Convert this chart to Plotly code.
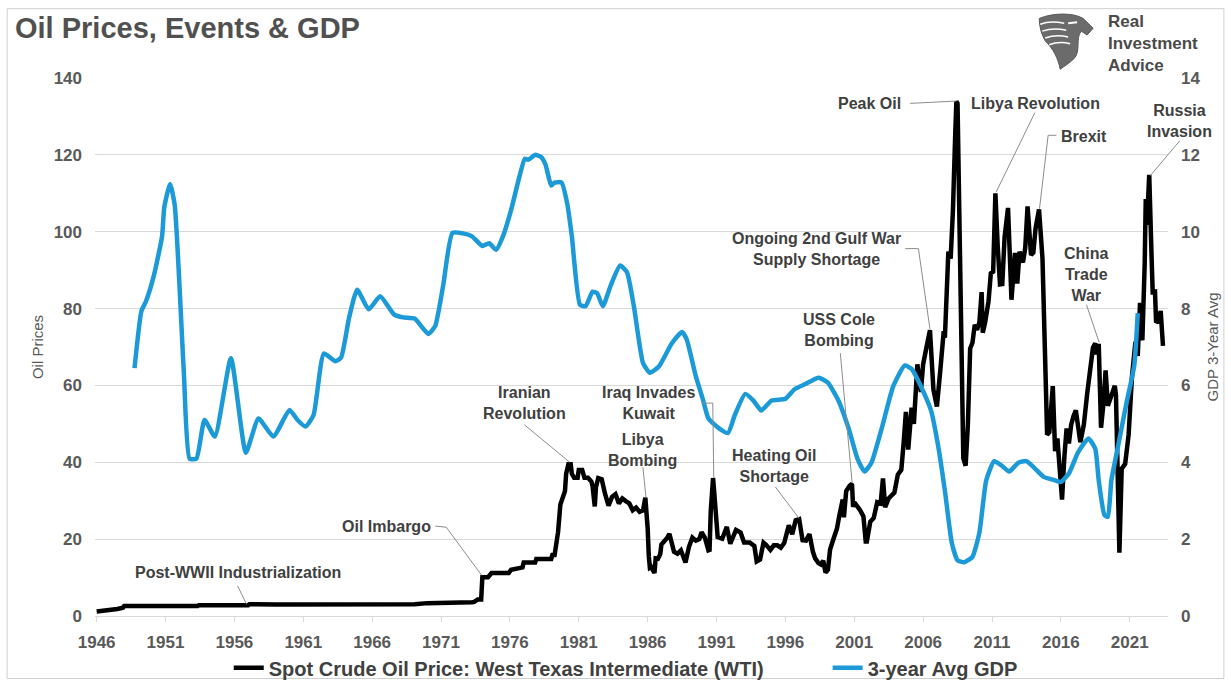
import plotly.graph_objects as go
from datetime import datetime, timedelta

# ---- WTI spot crude oil price, USD per barrel ----
oil_dates = [
    "1946-01", "1946-08", "1947-01", "1947-07", "1947-12", "1948-01",
    "1953-05", "1953-06", "1957-01", "1957-02", "1959-02", "1964-12",
    "1969-02", "1970-01", "1971-01", "1971-02", "1973-04", "1973-06",
    "1973-09", "1973-12", "1974-01", "1974-06", "1974-09", "1975-12",
    "1976-02", "1976-12", "1977-01", "1977-11", "1977-12", "1979-01",
    "1979-02", "1979-04", "1979-05", "1979-07", "1979-09", "1979-12",
    "1980-01", "1980-02", "1980-04", "1980-06", "1980-07", "1980-09",
    "1980-12", "1981-01", "1981-04", "1981-06", "1981-09", "1981-12",
    "1982-01", "1982-03", "1982-04", "1982-06", "1982-09", "1982-12",
    "1983-02", "1983-03", "1983-06", "1983-09", "1983-12", "1984-03",
    "1984-06", "1984-09", "1984-12", "1985-03", "1985-06", "1985-09",
    "1985-11", "1985-12", "1986-01", "1986-02", "1986-03", "1986-04",
    "1986-07", "1986-08", "1986-10", "1986-12", "1987-01", "1987-06",
    "1987-08", "1987-12", "1988-03", "1988-06", "1988-10", "1989-01",
    "1989-04", "1989-07", "1989-10", "1989-12", "1990-03", "1990-06",
    "1990-07", "1990-08", "1990-10", "1990-11", "1990-12", "1991-01",
    "1991-02", "1991-06", "1991-10", "1992-01", "1992-06", "1992-10",
    "1993-01", "1993-06", "1993-10", "1993-12", "1994-03", "1994-06",
    "1994-08", "1994-12", "1995-03", "1995-06", "1995-09", "1995-12",
    "1996-04", "1996-07", "1996-10", "1997-01", "1997-04", "1997-07",
    "1997-10", "1998-01", "1998-03", "1998-06", "1998-08", "1998-10",
    "1998-12", "1999-02", "1999-04", "1999-07", "1999-10", "1999-12",
    "2000-03", "2000-04", "2000-06", "2000-09", "2000-11", "2000-12",
    "2001-01", "2001-06", "2001-09", "2001-11", "2001-12", "2002-03",
    "2002-06", "2002-09", "2002-12", "2003-02", "2003-04", "2003-07",
    "2003-12", "2004-03", "2004-06", "2004-08", "2004-10", "2004-12",
    "2005-03", "2005-05", "2005-08", "2005-11", "2006-01", "2006-04",
    "2006-07", "2006-10", "2007-01", "2007-04", "2007-07", "2007-08",
    "2007-11", "2008-01", "2008-03", "2008-05", "2008-06", "2008-07",
    "2008-08", "2008-09", "2008-10", "2008-11", "2008-12", "2009-02",
    "2009-04", "2009-06", "2009-08", "2009-10", "2009-12", "2010-02",
    "2010-04", "2010-05", "2010-07", "2010-10", "2010-12", "2011-02",
    "2011-04", "2011-06", "2011-08", "2011-10", "2011-12", "2012-03",
    "2012-06", "2012-09", "2012-11", "2013-01", "2013-04", "2013-06",
    "2013-08", "2013-11", "2014-01", "2014-03", "2014-06", "2014-09",
    "2014-10", "2014-11", "2014-12", "2015-01", "2015-03", "2015-06",
    "2015-08", "2015-10", "2015-12", "2016-02", "2016-04", "2016-06",
    "2016-08", "2016-10", "2016-12", "2017-02", "2017-06", "2017-09",
    "2017-12", "2018-02", "2018-05", "2018-07", "2018-08", "2018-10",
    "2018-12", "2019-02", "2019-04", "2019-06", "2019-09", "2019-12",
    "2020-01", "2020-03", "2020-04", "2020-06", "2020-09", "2020-12",
    "2021-03", "2021-06", "2021-08", "2021-10", "2021-12", "2022-02",
    "2022-03", "2022-04", "2022-06", "2022-08", "2022-09", "2022-11",
    "2022-12", "2023-02", "2023-04", "2023-06",
]
oil_prices = [
    1.17, 1.37, 1.52, 1.82, 2.17, 2.57,
    2.57, 2.82, 2.82, 3.07, 2.97, 2.92,
    3.07, 3.35, 3.35, 3.56, 3.56, 3.66,
    4.31, 4.31, 10.11, 10.11, 11.16, 11.16,
    12.03, 12.65, 13.9, 13.9, 14.85, 14.85,
    15.85, 15.85, 18.1, 21.8, 29.0, 32.5,
    32.5, 37.0, 39.5, 39.5, 37.0, 36.0,
    36.0, 38.0, 38.0, 36.0, 36.0, 35.0,
    33.85, 28.5, 33.5, 35.9, 35.6, 31.7,
    29.0, 28.7, 31.0, 31.7, 29.3, 30.6,
    29.9, 29.3, 27.5, 28.2, 27.1, 27.5,
    30.8, 27.2, 22.9, 15.5, 12.6, 12.8,
    11.2, 15.0, 14.9, 16.1, 18.6, 20.3,
    21.4, 16.7, 16.2, 17.1, 13.9, 18.0,
    20.4, 19.6, 20.0, 21.8, 20.3, 17.1,
    17.2, 27.2, 35.9, 32.3, 27.3, 25.2,
    20.5, 20.1, 23.2, 18.8, 22.4, 21.7,
    19.1, 19.1, 18.2, 14.2, 14.7, 19.1,
    18.6, 17.2, 18.4, 18.4, 17.8, 19.0,
    23.6, 21.3, 24.9, 25.2, 19.7, 19.6,
    21.3, 16.7, 15.0, 13.7, 13.4, 14.4,
    11.3, 12.0, 17.3, 20.1, 22.8, 26.1,
    30.3, 25.7, 32.5, 33.9, 34.4, 28.4,
    29.6, 27.6, 25.9, 19.4, 19.4, 24.5,
    25.5, 29.6, 29.3, 35.8, 28.3, 30.6,
    32.1, 36.8, 38.0, 44.9, 53.1, 43.3,
    54.2, 50.0, 65.5, 58.3, 65.5, 70.0,
    74.4, 58.9, 54.5, 63.9, 74.1, 72.4,
    94.8, 93.0, 105.5, 125.4, 133.9, 133.4,
    116.7, 104.1, 76.6, 57.3, 41.1, 39.1,
    49.7, 69.6, 71.1, 75.8, 74.5, 76.4,
    84.3, 73.7, 76.3, 81.9, 89.2, 89.6,
    110.0, 96.3, 86.3, 86.4, 98.6, 106.2,
    82.3, 94.5, 86.5, 94.8, 92.0, 95.8,
    106.6, 93.9, 94.6, 100.8, 105.8, 93.0,
    84.3, 75.8, 59.3, 47.2, 47.8, 59.8,
    42.9, 46.2, 37.2, 30.3, 41.1, 48.8,
    44.9, 49.8, 52.0, 53.5, 45.2, 49.8,
    58.0, 62.2, 69.8, 71.0, 68.1, 70.8,
    49.0, 55.0, 63.9, 54.7, 57.0, 59.9,
    57.5, 29.2, 16.5, 38.3, 39.6, 47.1,
    62.3, 71.4, 67.7, 81.5, 71.7, 91.6,
    108.5, 101.8, 114.8, 94.0, 84.3, 84.4,
    76.4, 76.8, 79.4, 70.3,
]

# ---- 3-year average GDP growth, percent ----
gdp_dates = [
    "1948-10", "1949-04", "1949-08", "1950-03", "1950-10", "1950-12",
    "1951-05", "1951-09", "1952-05", "1952-10", "1953-04", "1953-11",
    "1954-08", "1955-10", "1956-11", "1957-10", "1958-11", "1960-01",
    "1960-08", "1961-03", "1961-10", "1962-07", "1963-05", "1963-10",
    "1964-05", "1964-12", "1965-10", "1966-08", "1967-08", "1968-04",
    "1969-02", "1970-02", "1970-08", "1971-03", "1971-11", "1972-09",
    "1973-04", "1974-01", "1974-07", "1975-01", "1975-07", "1976-02",
    "1976-09", "1977-02", "1977-05", "1977-11", "1978-04", "1978-08",
    "1979-01", "1979-04", "1979-10", "1980-03", "1980-07", "1981-02",
    "1981-07", "1982-01", "1982-05", "1982-10", "1983-05", "1984-01",
    "1984-07", "1985-01", "1985-09", "1986-03", "1986-11", "1987-10",
    "1988-07", "1988-11", "1989-07", "1990-01", "1990-06", "1991-03",
    "1991-11", "1992-05", "1993-02", "1993-09", "1994-04", "1995-01",
    "1996-01", "1996-09", "1997-06", "1998-06", "1999-02", "1999-11",
    "2000-08", "2001-04", "2001-10", "2002-04", "2003-01", "2003-11",
    "2004-09", "2005-03", "2005-11", "2006-08", "2007-02", "2007-08",
    "2008-02", "2008-07", "2009-01", "2009-08", "2010-02", "2010-08",
    "2011-03", "2011-10", "2012-04", "2012-12", "2013-07", "2014-02",
    "2014-10", "2015-08", "2016-01", "2016-08", "2017-04", "2018-01",
    "2018-07", "2018-10", "2019-03", "2019-06", "2019-09", "2020-03",
    "2020-10", "2021-05", "2021-08",
]
gdp_growth = [
    6.45, 7.93, 8.19, 8.87, 9.88, 10.65,
    11.24, 10.7, 6.33, 4.09, 4.1, 5.1,
    4.67, 6.71, 4.25, 5.14, 4.67, 5.36,
    5.1, 4.93, 5.23, 6.83, 6.63, 6.73,
    7.77, 8.49, 7.98, 8.32, 7.85, 7.77,
    7.74, 7.34, 7.55, 8.61, 9.97, 9.95,
    9.88, 9.63, 9.7, 9.53, 9.88, 10.56,
    11.4, 11.9, 11.87, 12.0, 11.95, 11.75,
    11.2, 11.28, 11.28, 10.73, 9.88, 8.1,
    8.06, 8.44, 8.4, 8.06, 8.61, 9.12,
    8.95, 8.06, 6.58, 6.33, 6.5, 7.09,
    7.39, 7.2, 6.24, 5.65, 5.14, 4.89,
    4.76, 5.23, 5.78, 5.61, 5.35, 5.61,
    5.65, 5.9, 6.03, 6.2, 6.07, 5.62,
    4.89, 4.08, 3.76, 3.99, 4.89, 5.98,
    6.52, 6.43, 5.98, 5.34, 4.44, 3.26,
    1.9, 1.45, 1.4, 1.54, 2.17, 3.53,
    4.03, 3.9, 3.76, 3.99, 4.03, 3.85,
    3.62, 3.53, 3.49, 3.71, 4.26, 4.62,
    4.35, 3.53, 2.63, 2.58, 3.53, 4.44,
    5.52, 6.52, 7.88,
]

tick_years = list(range(1946, 2022, 5))
oil_ticks = list(range(0, 141, 20))
gdp_ticks = list(range(0, 15, 2))

# event label: (text, label year, label price, leader-line vertices as (year, price))
events = [
    ("Post-WWII Industrialization", 1956.24, 11.4, [(1956.24, 7.8), (1956.89, 3.0)]),
    ("Oil Imbargo", 1967.07, 23.4, [(1970.59, 23.4), (1971.38, 23.1), (1973.95, 10.6)]),
    ("Iranian<br>Revolution", 1977.04, 55.4, [(1977.04, 49.8), (1980.35, 40.0)]),
    ("Iraq Invades<br>Kuwait", 1986.09, 55.4, [(1989.93, 55.4), (1990.73, 55.4), (1990.8, 36.0)]),
    ("Libya<br>Bombing", 1985.61, 43.2, [(1985.66, 38.7), (1985.88, 30.8)]),
    ("Heating Oil<br>Shortage", 1995.15, 39.1, [(1995.27, 33.6), (1997.0, 25.4)]),
    ("USS Cole<br>Bombing", 1999.86, 74.5, [(1999.99, 68.4), (2000.85, 34.6)]),
    ("Ongoing 2nd Gulf War<br>Supply Shortage", 1998.23, 95.4,
     [(2004.7, 95.6), (2005.66, 95.6), (2006.5, 74.6)]),
    ("Peak Oil", 2002.11, 133.4, [(2005.06, 133.4), (2008.42, 134.0)]),
    ("Libya Revolution", 2014.17, 133.4, [(2014.12, 131.0), (2011.3, 110.3)]),
    ("Brexit", 2017.69, 124.9, [(2015.68, 125.1), (2015.08, 125.1), (2014.45, 106.0)]),
    ("China<br>Trade<br>War", 2017.86, 88.9, [(2017.86, 81.0), (2018.78, 71.2)]),
    ("Russia<br>Invasion", 2024.58, 128.7, [(2024.62, 123.6), (2022.5, 114.6)]),
]

FONT = "Liberation Sans, Arial, sans-serif"
TEXT = "#404040"
AXIS_TEXT = "#595959"
GRID = "#d9d9d9"
LEADER = "#8c8c8c"

X0, X1 = 1945.88, 2023.78          # horizontal extent of the plot, decimal years
W, H = 1231, 699
M = dict(l=95, r=61, t=78, b=70)
PW, PH = W - M["l"] - M["r"], H - M["t"] - M["b"]


def to_date(y):
    year = int(y)
    start = datetime(year, 1, 1)
    days = (datetime(year + 1, 1, 1) - start).days
    return (start + timedelta(days=(y - year) * days)).strftime("%Y-%m-%d")


def xp(year):
    return (year - X0) / (X1 - X0)


def yp(price):
    return price / oil_ticks[-1]


def pix(x, y):
    """pixel position on the page -> paper coordinates"""
    return (x - M["l"]) / PW, (H - M["b"] - y) / PH


fig = go.Figure()
fig.add_trace(go.Scatter(
    x=oil_dates, y=oil_prices, mode="lines",
    name="Spot Crude Oil Price: West Texas Intermediate (WTI)",
    line=dict(color="#000000", width=4.5), legend="legend", showlegend=True,
))
fig.add_trace(go.Scatter(
    x=gdp_dates, y=gdp_growth, mode="lines", name="3-year Avg GDP",
    line=dict(color="#1b9ad7", width=4.5, shape="spline", smoothing=0.5),
    yaxis="y2", legend="legend2", showlegend=True,
))

annotations = []
shapes = []
for text, lx, ly, path in events:
    annotations.append(dict(
        x=xp(lx), y=yp(ly), xref="paper", yref="paper", text=text,
        showarrow=False, align="center", xanchor="center", yanchor="middle",
        font=dict(family=FONT, size=16, color=TEXT, weight="bold"),
    ))
    pts = [(xp(a), yp(b)) for a, b in path]
    d = "M " + " L ".join(f"{a:.5f},{b:.5f}" for a, b in pts)
    shapes.append(dict(type="path", path=d, xref="paper", yref="paper",
                       line=dict(color=LEADER, width=1)))

# chart frame
fx0, fy0 = pix(7, 7)
fx1, fy1 = pix(1226, 693)
shapes.append(dict(type="rect", xref="paper", yref="paper", x0=fx0, y0=fy1, x1=fx1, y1=fy0,
                   line=dict(color="#d0d0d0", width=1), layer="below"))

# brand mark: eagle head
eagle = [
    ("M", [(1041, 17)]),
    ("C", [(1055, 11), (1075, 11), (1085, 17)]),
    ("L", [(1095, 27)]),
    ("L", [(1089, 34)]),
    ("L", [(1083, 30)]),
    ("C", [(1077, 38), (1083, 50), (1076, 58)]),
    ("C", [(1071, 63), (1066, 66), (1062, 69)]),
    ("C", [(1060, 58), (1055, 48), (1047, 40)]),
    ("C", [(1043, 33), (1041, 25), (1041, 17)]),
]
d = ""
for cmd, ps in eagle:
    d += cmd + " " + " ".join("{:.5f},{:.5f}".format(*pix(a, b)) for a, b in ps) + " "
shapes.append(dict(type="path", path=d + "Z", xref="paper", yref="paper",
                   fillcolor="#6b6b6b", line=dict(color="#5a5a5a", width=1)))
for (a0, b0), (a1, b1), (a2, b2) in [
    ((1042, 23), (1052, 19), (1066, 22)),
    ((1044, 30), (1055, 26), (1068, 29)),
    ((1047, 37), (1058, 33), (1070, 36)),
    ((1051, 44), (1061, 40), (1072, 43)),
]:
    p0, p1, p2 = pix(a0, b0), pix(a1, b1), pix(a2, b2)
    shapes.append(dict(type="path", xref="paper", yref="paper",
                       path=f"M {p0[0]:.5f},{p0[1]:.5f} Q {p1[0]:.5f},{p1[1]:.5f} {p2[0]:.5f},{p2[1]:.5f}",
                       line=dict(color="#ffffff", width=1.5)))
e0, e1 = pix(1070, 22), pix(1079, 21)
shapes.append(dict(type="line", xref="paper", yref="paper", x0=e0[0], y0=e0[1], x1=e1[0], y1=e1[1],
                   line=dict(color="#ffffff", width=2)))

bx, by = pix(1108, 43)
annotations.append(dict(
    x=bx, y=by, xref="paper", yref="paper", text="Real<br>Investment<br>Advice",
    showarrow=False, xanchor="left", yanchor="middle", align="left",
    font=dict(family=FONT, size=17, color="#4a4a4a", weight="bold"),
))

tick_font = dict(family=FONT, size=17, color=AXIS_TEXT, weight="bold")
legend_font = dict(family=FONT, size=20, color=TEXT, weight="bold")
lg1x, lgy = pix(229, 682)
lg2x, _ = pix(829, 682)

fig.update_layout(
    width=W, height=H, margin=M, showlegend=True,
    paper_bgcolor="#ffffff", plot_bgcolor="#ffffff",
    title=dict(text="Oil Prices, Events & GDP", x=15 / W, xref="container", xanchor="left",
               y=1 - 28 / H, yref="container", yanchor="middle",
               font=dict(family=FONT, size=29, color="#505050", weight="bold")),
    xaxis=dict(
        type="date", range=[to_date(X0), to_date(X1)],
        tickvals=[f"{y}-01-01" for y in tick_years], ticktext=[str(y) for y in tick_years],
        ticks="outside", ticklen=5, tickcolor=GRID, showline=True, linecolor=GRID, linewidth=1,
        showgrid=False, zeroline=False, tickfont=tick_font, ticklabelstandoff=6,
    ),
    yaxis=dict(
        range=[0, oil_ticks[-1]], tickvals=oil_ticks, showgrid=True, gridcolor=GRID, gridwidth=1,
        zeroline=False, showline=False, tickfont=tick_font, ticklabelstandoff=12,
        title=dict(text="Oil Prices", font=dict(family=FONT, size=15, color=AXIS_TEXT), standoff=6),
    ),
    yaxis2=dict(
        range=[0, gdp_ticks[-1]], tickvals=gdp_ticks, overlaying="y", side="right",
        showgrid=False, zeroline=False, showline=False, tickfont=tick_font, ticklabelstandoff=12,
        title=dict(text="GDP 3-Year Avg", font=dict(family=FONT, size=15, color=AXIS_TEXT), standoff=8),
    ),
    legend=dict(orientation="h", x=lg1x, xanchor="left", y=lgy, yanchor="middle",
                font=legend_font, bgcolor="rgba(0,0,0,0)"),
    legend2=dict(orientation="h", x=lg2x, xanchor="left", y=lgy, yanchor="middle",
                 font=legend_font, bgcolor="rgba(0,0,0,0)"),
    annotations=annotations, shapes=shapes,
)

fig.write_html("out.html")
